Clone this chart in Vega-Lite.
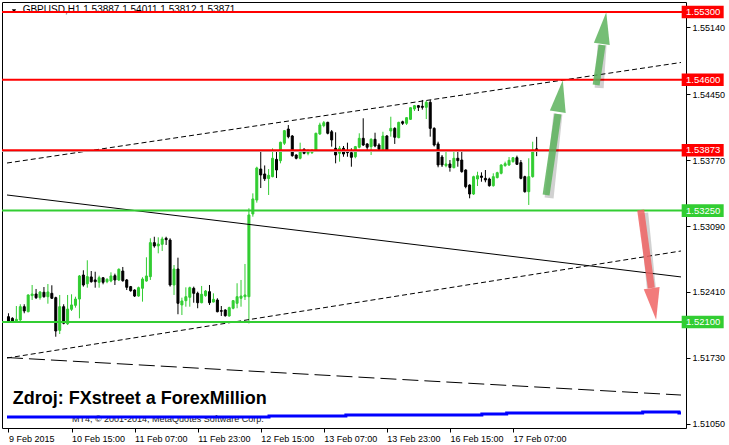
{
 "$schema": "https://vega.github.io/schema/vega-lite/v6.json",
 "width": 684, "height": 426,
 "autosize": {"type": "none"},
 "padding": {"left": 2, "top": 2, "right": 43, "bottom": 17},
 "background": "white",
 "config": {
  "view": {"stroke": "black", "strokeWidth": 1},
  "axis": {"labelFont": "Liberation Sans", "labelFontSize": 9, "labelColor": "black", "tickColor": "black", "domainColor": "black", "grid": false}
 },
 "datasets": {
  "one": [{}],
  "candles": [
   {"i":0,"o":1.52155,"h":1.52190,"l":1.52097,"c":1.52110},
   {"i":1,"o":1.52138,"h":1.52149,"l":1.52103,"c":1.52110},
   {"i":2,"o":1.52103,"h":1.52265,"l":1.52097,"c":1.52128},
   {"i":3,"o":1.52121,"h":1.52283,"l":1.52103,"c":1.52258},
   {"i":4,"o":1.52258,"h":1.52283,"l":1.52190,"c":1.52214},
   {"i":5,"o":1.52206,"h":1.52386,"l":1.52200,"c":1.52379},
   {"i":6,"o":1.52372,"h":1.52482,"l":1.52327,"c":1.52389},
   {"i":7,"o":1.52389,"h":1.52441,"l":1.52337,"c":1.52351},
   {"i":8,"o":1.52351,"h":1.52417,"l":1.52330,"c":1.52410},
   {"i":9,"o":1.52407,"h":1.52461,"l":1.52351,"c":1.52361},
   {"i":10,"o":1.52361,"h":1.52492,"l":1.52289,"c":1.52410},
   {"i":11,"o":1.52396,"h":1.52479,"l":1.52337,"c":1.52345},
   {"i":12,"o":1.52351,"h":1.52361,"l":1.51948,"c":1.52007},
   {"i":13,"o":1.52014,"h":1.52379,"l":1.51976,"c":1.52258},
   {"i":14,"o":1.52258,"h":1.52283,"l":1.52076,"c":1.52087},
   {"i":15,"o":1.52082,"h":1.52379,"l":1.52069,"c":1.52234},
   {"i":16,"o":1.52231,"h":1.52386,"l":1.52214,"c":1.52276},
   {"i":17,"o":1.52272,"h":1.52361,"l":1.52248,"c":1.52337},
   {"i":18,"o":1.52337,"h":1.52585,"l":1.52138,"c":1.52575},
   {"i":19,"o":1.52585,"h":1.52634,"l":1.52465,"c":1.52482},
   {"i":20,"o":1.52495,"h":1.52737,"l":1.52454,"c":1.52568},
   {"i":21,"o":1.52565,"h":1.52626,"l":1.52506,"c":1.52516},
   {"i":22,"o":1.52534,"h":1.52619,"l":1.52454,"c":1.52516},
   {"i":23,"o":1.52510,"h":1.52578,"l":1.52454,"c":1.52557},
   {"i":24,"o":1.52557,"h":1.52560,"l":1.52489,"c":1.52510},
   {"i":25,"o":1.52516,"h":1.52551,"l":1.52500,"c":1.52541},
   {"i":26,"o":1.52523,"h":1.52613,"l":1.52510,"c":1.52575},
   {"i":27,"o":1.52578,"h":1.52599,"l":1.52482,"c":1.52534},
   {"i":28,"o":1.52534,"h":1.52654,"l":1.52523,"c":1.52644},
   {"i":29,"o":1.52626,"h":1.52668,"l":1.52516,"c":1.52526},
   {"i":30,"o":1.52534,"h":1.52544,"l":1.52430,"c":1.52458},
   {"i":31,"o":1.52465,"h":1.52472,"l":1.52413,"c":1.52423},
   {"i":32,"o":1.52430,"h":1.52438,"l":1.52358,"c":1.52368},
   {"i":33,"o":1.52368,"h":1.52465,"l":1.52361,"c":1.52454},
   {"i":34,"o":1.52448,"h":1.52562,"l":1.52310,"c":1.52544},
   {"i":35,"o":1.52523,"h":1.52768,"l":1.52516,"c":1.52575},
   {"i":36,"o":1.52568,"h":1.52964,"l":1.52534,"c":1.52919},
   {"i":37,"o":1.52919,"h":1.52980,"l":1.52867,"c":1.52885},
   {"i":38,"o":1.52885,"h":1.52974,"l":1.52809,"c":1.52905},
   {"i":39,"o":1.52902,"h":1.52980,"l":1.52833,"c":1.52957},
   {"i":40,"o":1.52964,"h":1.52980,"l":1.52895,"c":1.52950},
   {"i":41,"o":1.52946,"h":1.52964,"l":1.52465,"c":1.52482},
   {"i":42,"o":1.52482,"h":1.52688,"l":1.52379,"c":1.52647},
   {"i":43,"o":1.52647,"h":1.52764,"l":1.52180,"c":1.52293},
   {"i":44,"o":1.52276,"h":1.52351,"l":1.52172,"c":1.52317},
   {"i":45,"o":1.52320,"h":1.52458,"l":1.52258,"c":1.52361},
   {"i":46,"o":1.52355,"h":1.52465,"l":1.52258,"c":1.52454},
   {"i":47,"o":1.52448,"h":1.52465,"l":1.52299,"c":1.52396},
   {"i":48,"o":1.52396,"h":1.52413,"l":1.52242,"c":1.52299},
   {"i":49,"o":1.52299,"h":1.52472,"l":1.52293,"c":1.52386},
   {"i":50,"o":1.52372,"h":1.52430,"l":1.52361,"c":1.52420},
   {"i":51,"o":1.52413,"h":1.52482,"l":1.52276,"c":1.52299},
   {"i":52,"o":1.52306,"h":1.52396,"l":1.52303,"c":1.52334},
   {"i":53,"o":1.52327,"h":1.52345,"l":1.52200,"c":1.52206},
   {"i":54,"o":1.52217,"h":1.52265,"l":1.52162,"c":1.52211},
   {"i":55,"o":1.52224,"h":1.52231,"l":1.52155,"c":1.52165},
   {"i":56,"o":1.52162,"h":1.52258,"l":1.52155,"c":1.52248},
   {"i":57,"o":1.52242,"h":1.52327,"l":1.52231,"c":1.52320},
   {"i":58,"o":1.52293,"h":1.52500,"l":1.52242,"c":1.52361},
   {"i":59,"o":1.52345,"h":1.52534,"l":1.52258,"c":1.52368},
   {"i":60,"o":1.52361,"h":1.52699,"l":1.52327,"c":1.52379},
   {"i":61,"o":1.52361,"h":1.53274,"l":1.52085,"c":1.53205},
   {"i":62,"o":1.53215,"h":1.53428,"l":1.53187,"c":1.53370},
   {"i":63,"o":1.53359,"h":1.53703,"l":1.53332,"c":1.53690},
   {"i":64,"o":1.53679,"h":1.53860,"l":1.53483,"c":1.53618},
   {"i":65,"o":1.53628,"h":1.53716,"l":1.53556,"c":1.53579},
   {"i":66,"o":1.53581,"h":1.53679,"l":1.53411,"c":1.53614},
   {"i":67,"o":1.53600,"h":1.53893,"l":1.53594,"c":1.53790},
   {"i":68,"o":1.53779,"h":1.53875,"l":1.53586,"c":1.53669},
   {"i":69,"o":1.53765,"h":1.53961,"l":1.53738,"c":1.53955},
   {"i":70,"o":1.53945,"h":1.54082,"l":1.53927,"c":1.54075},
   {"i":71,"o":1.54092,"h":1.54133,"l":1.53996,"c":1.54013},
   {"i":72,"o":1.54020,"h":1.54030,"l":1.53806,"c":1.53817},
   {"i":73,"o":1.53824,"h":1.53831,"l":1.53779,"c":1.53790},
   {"i":74,"o":1.53790,"h":1.53951,"l":1.53779,"c":1.53875},
   {"i":75,"o":1.53883,"h":1.53893,"l":1.53831,"c":1.53841},
   {"i":76,"o":1.53841,"h":1.53883,"l":1.53821,"c":1.53865},
   {"i":77,"o":1.53848,"h":1.53886,"l":1.53834,"c":1.53865},
   {"i":78,"o":1.53868,"h":1.54054,"l":1.53858,"c":1.54048},
   {"i":79,"o":1.54041,"h":1.54157,"l":1.54031,"c":1.54134},
   {"i":80,"o":1.54127,"h":1.54175,"l":1.54110,"c":1.54157},
   {"i":81,"o":1.54161,"h":1.54167,"l":1.54037,"c":1.54048},
   {"i":82,"o":1.54064,"h":1.54082,"l":1.53910,"c":1.53979},
   {"i":83,"o":1.53893,"h":1.54058,"l":1.53738,"c":1.53824},
   {"i":84,"o":1.53841,"h":1.53917,"l":1.53755,"c":1.53893},
   {"i":85,"o":1.53893,"h":1.53917,"l":1.53806,"c":1.53834},
   {"i":86,"o":1.53868,"h":1.53951,"l":1.53806,"c":1.53848},
   {"i":87,"o":1.53848,"h":1.53893,"l":1.53703,"c":1.53800},
   {"i":88,"o":1.53806,"h":1.53917,"l":1.53790,"c":1.53910},
   {"i":89,"o":1.53904,"h":1.54048,"l":1.53893,"c":1.53996},
   {"i":90,"o":1.53996,"h":1.54203,"l":1.53917,"c":1.53927},
   {"i":91,"o":1.53938,"h":1.53945,"l":1.53875,"c":1.53904},
   {"i":92,"o":1.53910,"h":1.53996,"l":1.53824,"c":1.53986},
   {"i":93,"o":1.53986,"h":1.54054,"l":1.53904,"c":1.53917},
   {"i":94,"o":1.53927,"h":1.53945,"l":1.53875,"c":1.53883},
   {"i":95,"o":1.53883,"h":1.54064,"l":1.53875,"c":1.54020},
   {"i":96,"o":1.54020,"h":1.54030,"l":1.53858,"c":1.53875},
   {"i":97,"o":1.54072,"h":1.54219,"l":1.54013,"c":1.54099},
   {"i":98,"o":1.54099,"h":1.54110,"l":1.53938,"c":1.54007},
   {"i":99,"o":1.54003,"h":1.54167,"l":1.53996,"c":1.54161},
   {"i":100,"o":1.54167,"h":1.54178,"l":1.54134,"c":1.54151},
   {"i":101,"o":1.54151,"h":1.54213,"l":1.54134,"c":1.54209},
   {"i":102,"o":1.54192,"h":1.54316,"l":1.54185,"c":1.54312},
   {"i":103,"o":1.54299,"h":1.54340,"l":1.54278,"c":1.54333},
   {"i":104,"o":1.54333,"h":1.54340,"l":1.54278,"c":1.54316},
   {"i":105,"o":1.54327,"h":1.54392,"l":1.54292,"c":1.54316},
   {"i":106,"o":1.54316,"h":1.54384,"l":1.54195,"c":1.54368},
   {"i":107,"o":1.54368,"h":1.54392,"l":1.54013,"c":1.54099},
   {"i":108,"o":1.54099,"h":1.54110,"l":1.53912,"c":1.53927},
   {"i":109,"o":1.53938,"h":1.53961,"l":1.53697,"c":1.53721},
   {"i":110,"o":1.53803,"h":1.53824,"l":1.53700,"c":1.53721},
   {"i":111,"o":1.53714,"h":1.53858,"l":1.53697,"c":1.53731},
   {"i":112,"o":1.53731,"h":1.53772,"l":1.53652,"c":1.53695},
   {"i":113,"o":1.53693,"h":1.53865,"l":1.53686,"c":1.53790},
   {"i":114,"o":1.53790,"h":1.53865,"l":1.53703,"c":1.53765},
   {"i":115,"o":1.53772,"h":1.53875,"l":1.53641,"c":1.53652},
   {"i":116,"o":1.53669,"h":1.53676,"l":1.53480,"c":1.53497},
   {"i":117,"o":1.53514,"h":1.53521,"l":1.53377,"c":1.53421},
   {"i":118,"o":1.53421,"h":1.53610,"l":1.53411,"c":1.53600},
   {"i":119,"o":1.53576,"h":1.53651,"l":1.53504,"c":1.53610},
   {"i":120,"o":1.53607,"h":1.53645,"l":1.53548,"c":1.53593},
   {"i":121,"o":1.53583,"h":1.53669,"l":1.53542,"c":1.53566},
   {"i":122,"o":1.53576,"h":1.53590,"l":1.53497,"c":1.53507},
   {"i":123,"o":1.53507,"h":1.53635,"l":1.53497,"c":1.53600},
   {"i":124,"o":1.53590,"h":1.53651,"l":1.53583,"c":1.53641},
   {"i":125,"o":1.53635,"h":1.53728,"l":1.53624,"c":1.53721},
   {"i":126,"o":1.53714,"h":1.53755,"l":1.53703,"c":1.53734},
   {"i":127,"o":1.53721,"h":1.53803,"l":1.53710,"c":1.53769},
   {"i":128,"o":1.53755,"h":1.53803,"l":1.53745,"c":1.53796},
   {"i":129,"o":1.53796,"h":1.53817,"l":1.53721,"c":1.53728},
   {"i":130,"o":1.53745,"h":1.53772,"l":1.53573,"c":1.53583},
   {"i":131,"o":1.53600,"h":1.53610,"l":1.53435,"c":1.53445},
   {"i":132,"o":1.53445,"h":1.53790,"l":1.53308,"c":1.53600},
   {"i":133,"o":1.53600,"h":1.53961,"l":1.53590,"c":1.53875},
   {"i":134,"o":1.53887,"h":1.54011,"l":1.53812,"c":1.53871}
  ],
  "levels": [
   {"p":1.55300,"kind":"resistance","lab":"1.55300"},
   {"p":1.54600,"kind":"resistance","lab":"1.54600"},
   {"p":1.53873,"kind":"resistance","lab":"1.53873"},
   {"p":1.53250,"kind":"support","lab":"1.53250"},
   {"p":1.52100,"kind":"support","lab":"1.52100"}
  ],
  "trend": [
   {"line":"falling","i":-0.375,"p":1.53411},
   {"line":"falling","i":170.625,"p":1.52565},
   {"line":"upper","i":-0.375,"p":1.53741},
   {"line":"upper","i":170.625,"p":1.54779},
   {"line":"lower","i":-0.375,"p":1.51728},
   {"line":"lower","i":170.625,"p":1.52833},
   {"line":"longdash","i":-0.375,"p":1.51733},
   {"line":"longdash","i":170.625,"p":1.51346}
  ],
  "ma": [
   {"i":-0.375,"p":1.51119},
   {"i":66.1,"p":1.51130},
   {"i":85.6,"p":1.51140},
   {"i":120.1,"p":1.51150},
   {"i":126.4,"p":1.51160},
   {"i":160.9,"p":1.51171},
   {"i":170.1,"p":1.51160},
   {"i":170.625,"p":1.51160}
  ],
  "arrows": [
   {"dir":"up","ti":136.4,"tp":1.53411,"bi":139.4,"bp":1.54247},
   {"dir":"up","ti":149.1,"tp":1.54547,"bi":150.6,"bp":1.54959},
   {"dir":"down","ti":160.4,"tp":1.53256,"bi":163.1,"bp":1.52451}
  ]
 },
 "layer": [
  {
   "data": {"name": "candles"},
   "mark": {"type": "rule", "strokeWidth": 1},
   "encoding": {
    "x": {"field": "i", "type": "quantitative", "scale": {"domain": [-0.375, 170.625], "nice": false, "zero": false},
      "axis": {"orient": "bottom", "title": null, "values": [0,16,32,48,64,80,96,112,128], "labelAlign": "left", "labelPadding": 2, "tickSize": 4, "domain": false, "labelOffset": 0,
       "labelExpr": "datum.value==0?'9 Feb 2015':datum.value==16?'10 Feb 15:00':datum.value==32?'11 Feb 07:00':datum.value==48?'11 Feb 23:00':datum.value==64?'12 Feb 15:00':datum.value==80?'13 Feb 07:00':datum.value==96?'13 Feb 23:00':datum.value==112?'16 Feb 15:00':'17 Feb 07:00'"}},
    "y": {"field": "l", "type": "quantitative", "scale": {"domain": [1.510058, 1.554032], "nice": false, "zero": false},
      "axis": {"orient": "right", "title": null, "values": [1.5105,1.5139,1.5173,1.5207,1.5241,1.5275,1.5309,1.5343,1.5377,1.5411,1.5445,1.548,1.5514], "format": ".5f", "tickSize": 4, "labelPadding": 2, "domain": false}},
    "y2": {"field": "h"},
    "color": {"condition": {"test": "datum.c > datum.o", "value": "#32CD32"}, "value": "#000000"}
   }
  },
  {
   "data": {"name": "candles"},
   "mark": {"type": "bar", "width": 2, "strokeWidth": 1, "orient": "vertical"},
   "encoding": {
    "x": {"field": "i", "type": "quantitative"},
    "y": {"field": "o", "type": "quantitative"},
    "y2": {"field": "c"},
    "color": {"condition": {"test": "datum.c > datum.o", "value": "#32CD32"}, "value": "#000000"},
    "stroke": {"condition": {"test": "datum.c > datum.o", "value": "#32CD32"}, "value": "#000000"}
   }
  },
  {
   "data": {"name": "one"},
   "mark": {"type": "text", "align": "left", "baseline": "middle", "font": "Liberation Sans", "fontSize": 10, "color": "black"},
   "encoding": {
    "x": {"datum": 3.6, "type": "quantitative"},
    "y": {"datum": 1.55321, "type": "quantitative"},
    "text": {"value": "GBPUSD,H1  1.53887 1.54011 1.53812 1.53871"}
   }
  },
  {
   "data": {"name": "one"},
   "mark": {"type": "point", "shape": "triangle-down", "filled": true, "size": 18, "color": "black", "opacity": 1},
   "encoding": {
    "x": {"datum": 1.4, "type": "quantitative"},
    "y": {"datum": 1.5531, "type": "quantitative"}
   }
  },
  {
   "data": {"name": "one"},
   "mark": {"type": "text", "align": "left", "baseline": "alphabetic", "font": "Liberation Sans", "fontSize": 18, "fontWeight": "bold", "color": "black"},
   "encoding": {
    "x": {"datum": 1.1, "type": "quantitative"},
    "y": {"datum": 1.51253, "type": "quantitative"},
    "text": {"value": "Zdroj: FXstreet a ForexMillion"}
   }
  },
  {
   "data": {"name": "one"},
   "mark": {"type": "text", "align": "left", "baseline": "middle", "font": "Liberation Sans", "fontSize": 9, "color": "#202020"},
   "encoding": {
    "x": {"datum": 16.1, "type": "quantitative"},
    "y": {"datum": 1.51099, "type": "quantitative"},
    "text": {"value": "MT4, © 2001-2014, MetaQuotes Software Corp."}
   }
  },
  {
   "data": {"name": "ma"},
   "mark": {"type": "line", "color": "#0000FF", "strokeWidth": 3, "interpolate": "step-after"},
   "encoding": {
    "x": {"field": "i", "type": "quantitative"},
    "y": {"field": "p", "type": "quantitative"}
   }
  },
  {
   "data": {"name": "trend"},
   "transform": [{"filter": "datum.line == 'falling'"}],
   "mark": {"type": "line", "color": "black", "strokeWidth": 1},
   "encoding": {
    "x": {"field": "i", "type": "quantitative"},
    "y": {"field": "p", "type": "quantitative"}
   }
  },
  {
   "data": {"name": "trend"},
   "transform": [{"filter": "datum.line == 'upper' || datum.line == 'lower'"}],
   "mark": {"type": "line", "color": "black", "strokeWidth": 1, "strokeDash": [5, 3]},
   "encoding": {
    "x": {"field": "i", "type": "quantitative"},
    "y": {"field": "p", "type": "quantitative"},
    "detail": {"field": "line"}
   }
  },
  {
   "data": {"name": "trend"},
   "transform": [{"filter": "datum.line == 'longdash'"}],
   "mark": {"type": "line", "color": "black", "strokeWidth": 1, "strokeDash": [16, 6]},
   "encoding": {
    "x": {"field": "i", "type": "quantitative"},
    "y": {"field": "p", "type": "quantitative"}
   }
  },
  {
   "data": {"name": "one"},
   "mark": {"type": "rule", "color": "#C0C0C0", "strokeWidth": 1},
   "encoding": {
    "y": {"datum": 1.5386, "type": "quantitative"}
   }
  },
  {
   "data": {"name": "levels"},
   "mark": {"type": "rule", "strokeWidth": 2},
   "encoding": {
    "y": {"field": "p", "type": "quantitative"},
    "color": {"field": "kind", "type": "nominal", "scale": {"domain": ["resistance", "support"], "range": ["#FF0000", "#32CD32"]}, "legend": null}
   }
  },
  {
   "data": {"name": "arrows"},
   "mark": {"type": "rule", "strokeWidth": 9, "opacity": 0.18, "color": "#000000", "xOffset": 3, "yOffset": 3},
   "encoding": {
    "x": {"field": "ti", "type": "quantitative"},
    "y": {"field": "tp", "type": "quantitative"},
    "x2": {"field": "bi"},
    "y2": {"field": "bp"}
   }
  },
  {
   "data": {"name": "arrows"},
   "transform": [{"filter": "datum.dir == 'up'"}],
   "mark": {"type": "rule", "strokeWidth": 7, "opacity": 0.85, "color": "#5DB35D"},
   "encoding": {
    "x": {"field": "ti", "type": "quantitative"},
    "y": {"field": "tp", "type": "quantitative"},
    "x2": {"field": "bi"},
    "y2": {"field": "bp"}
   }
  },
  {
   "data": {"name": "arrows"},
   "transform": [{"filter": "datum.dir == 'down'"}],
   "mark": {"type": "rule", "strokeWidth": 7, "opacity": 0.85, "color": "#F06464"},
   "encoding": {
    "x": {"field": "ti", "type": "quantitative"},
    "y": {"field": "tp", "type": "quantitative"},
    "x2": {"field": "bi"},
    "y2": {"field": "bp"}
   }
  },
  {
   "data": {"name": "one"},
   "mark": {"type": "point", "shape": "M0,-1L0.5,1L-0.5,1Z", "filled": true, "size": 1024, "angle": 9, "color": "#5DB35D", "opacity": 0.85},
   "encoding": {
    "x": {"datum": 140.0, "type": "quantitative"},
    "y": {"datum": 1.54433, "type": "quantitative"}
   }
  },
  {
   "data": {"name": "one"},
   "mark": {"type": "point", "shape": "M0,-1L0.5,1L-0.5,1Z", "filled": true, "size": 1024, "angle": 8, "color": "#5DB35D", "opacity": 0.85},
   "encoding": {
    "x": {"datum": 151.1, "type": "quantitative"},
    "y": {"datum": 1.55135, "type": "quantitative"}
   }
  },
  {
   "data": {"name": "one"},
   "mark": {"type": "point", "shape": "M0,-1L0.5,1L-0.5,1Z", "filled": true, "size": 1024, "angle": 172, "color": "#F06464", "opacity": 0.85},
   "encoding": {
    "x": {"datum": 163.75, "type": "quantitative"},
    "y": {"datum": 1.52286, "type": "quantitative"}
   }
  },
  {
   "data": {"name": "levels"},
   "mark": {"type": "point", "shape": "M-1,-0.3L1,-0.3L1,0.3L-1,0.3Z", "filled": true, "size": 1764, "opacity": 1},
   "encoding": {
    "x": {"datum": 176.125, "type": "quantitative"},
    "y": {"field": "p", "type": "quantitative"},
    "color": {"field": "kind", "type": "nominal", "legend": null}
   }
  },
  {
   "data": {"name": "levels"},
   "mark": {"type": "text", "align": "left", "baseline": "middle", "font": "Liberation Sans", "fontSize": 9.5, "color": "white"},
   "encoding": {
    "x": {"datum": 171.9, "type": "quantitative"},
    "y": {"field": "p", "type": "quantitative"},
    "text": {"field": "lab"}
   }
  }
 ]
}
